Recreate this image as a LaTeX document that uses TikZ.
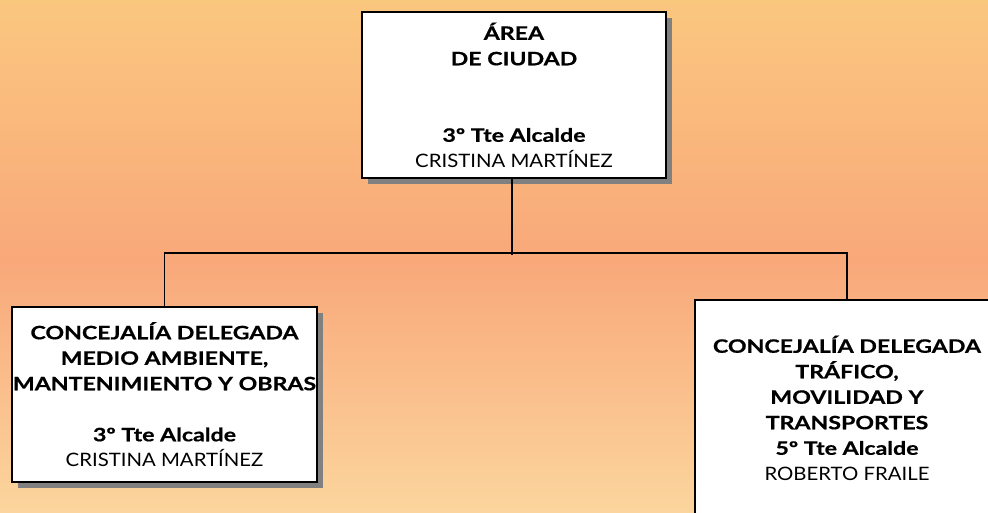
\documentclass[tikz,border=0pt]{standalone}
\usepackage{fontspec}
\setmainfont{Lato}[FakeStretch=1.1, BoldFeatures={FakeStretch=1.25, FakeBold=0.6}]
\usetikzlibrary{shadows}
\definecolor{bgtop}{HTML}{FAC77F}
\definecolor{bgmid}{HTML}{F9A87A}
\definecolor{bgbot}{HTML}{FBD59D}
\definecolor{shadowgray}{HTML}{808080}
\begin{document}
\begin{tikzpicture}[x=1pt,y=-1pt,
  orgbox/.style={draw=black, line width=1.6pt, fill=white, inner sep=0pt,
    align=center, font=\fontsize{18.5}{25.5}\selectfont,
    drop shadow={shadow xshift=6pt, shadow yshift=-6pt, fill=shadowgray, opacity=1}},
  link/.style={draw=black, line width=1.6pt}]
\shade[top color=bgtop, bottom color=bgmid, shading angle=0] (0,0) rectangle (988,260);
\shade[top color=bgmid, bottom color=bgbot] (0,260) rectangle (988,512);
\useasboundingbox (0,0) rectangle (988,512);
\node[orgbox, minimum width=304pt, minimum height=166pt] (top) at (514,95)
  {\textbf{ÁREA}\\ \textbf{DE CIUDAD}\\ \\ \\ \textbf{3º Tte Alcalde}\\ CRISTINA MARTÍNEZ};
\node[orgbox, minimum width=305pt, minimum height=175pt] (left) at (164.5,394.5)
  {\textbf{CONCEJALÍA DELEGADA}\\ \textbf{MEDIO AMBIENTE,}\\ \textbf{MANTENIMIENTO Y OBRAS}\\ \\ \textbf{3º Tte Alcalde}\\ CRISTINA MARTÍNEZ};
\node[orgbox, minimum width=304pt, minimum height=216pt] (right) at (847,408)
  {\textbf{CONCEJALÍA DELEGADA}\\ \textbf{TRÁFICO,}\\ \textbf{MOVILIDAD Y}\\ \textbf{TRANSPORTES}\\ \textbf{5º Tte Alcalde}\\ ROBERTO FRAILE};
\coordinate (j) at (512,253);
\draw[link] (top.south -| j) -- ([yshift=-1.5pt]j);
\draw[link] (left.north) |- (j) -| (right.north);
\end{tikzpicture}
\end{document}
